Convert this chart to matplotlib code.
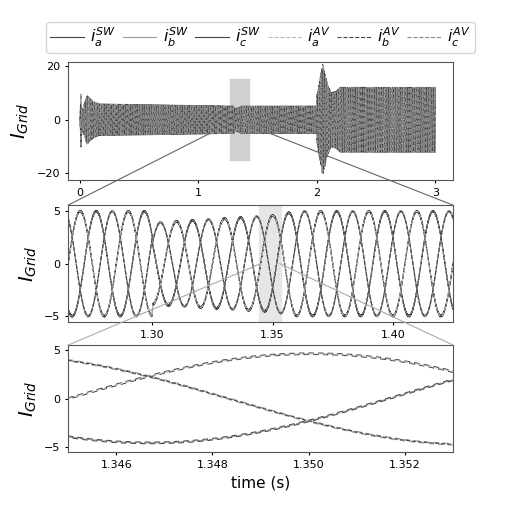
import matplotlib
matplotlib.use("Agg")
import matplotlib.pyplot as plt
import numpy as np
from matplotlib.patches import ConnectionPatch, Rectangle

# envelope of grid current amplitude (time s, amplitude A)
env_t = [0.0, 0.008, 0.015, 0.03, 0.06, 0.09, 0.12, 0.16, 1.2999, 1.3001, 1.35, 1.36,
         1.999, 2.001, 2.05, 2.09, 2.12, 2.16, 2.2, 2.23, 3.0]
env_a = [0.0, 11.0, 3.0, 5.0, 9.0, 7.5, 6.5, 5.8, 5.0, 3.9, 4.6, 5.0,
         5.0, 9.0, 20.5, 13.0, 10.0, 10.5, 12.0, 12.0, 12.0]
f_grid = 50.0
t_ref = 1.345
ripple = 0.08

labels = ["$i_a^{SW}$", "$i_b^{SW}$", "$i_c^{SW}$", "$i_a^{AV}$", "$i_b^{AV}$", "$i_c^{AV}$"]
colors = ["#444444", "#999999", "#444444", "#bbbbbb", "#444444", "#888888"]
styles = ["-", "-", "-", "--", "--", "--"]


def currents(t):
    amp = np.interp(t, env_t, env_a)
    th = 2 * np.pi * f_grid * (t - t_ref)
    av = [amp * np.sin(th + k * 2 * np.pi / 3) for k in (0, 1, -1)]
    sw = [c + ripple * np.sign(np.sin(2 * np.pi * 5000 * t)) for c in av]
    return sw + av


fig = plt.figure(figsize=(5.05, 5.3), dpi=100)
ax1 = fig.add_axes([0.135, 0.66, 0.762, 0.223])
ax2 = fig.add_axes([0.135, 0.392, 0.762, 0.221])
ax3 = fig.add_axes([0.135, 0.147, 0.762, 0.202])

spans = [(0.0, 3.0, 6000), (1.265, 1.425, 3000), (1.345, 1.353, 1500)]
for ax, (a, b, n) in zip([ax1, ax2, ax3], spans):
    t = np.linspace(a, b, n)
    for y, c, ls, lab in zip(currents(t), colors, styles, labels):
        ax.plot(t, y, color=c, ls=ls, lw=0.8, label=lab, zorder=2)
    ax.set_ylabel("$I_{Grid}$", fontsize=14)
    ax.tick_params(labelsize=8, length=2)
    for s in ax.spines.values():
        s.set_color("#555555")

ax1.set_xlim(-0.1, 3.15)
ax1.set_ylim(-22.5, 21.5)
ax1.set_xticks([0, 1, 2, 3])
ax1.set_yticks([-20, 0, 20])
ax2.set_xlim(1.265, 1.425)
ax2.set_ylim(-5.6, 5.6)
ax2.set_xticks([1.30, 1.35, 1.40])
ax2.set_yticks([-5, 0, 5])
ax3.set_xlim(1.345, 1.353)
ax3.set_ylim(-5.5, 5.5)
ax3.set_xticks([1.346, 1.348, 1.350, 1.352])
ax3.set_yticks([-5, 0, 5])
ax3.set_xlabel("time (s)", fontsize=11)

ax1.add_patch(Rectangle((1.27, -15), 0.16, 30, color="#d0d0d0", zorder=1))
ax2.add_patch(Rectangle((1.3445, -5.6), 0.0088, 11.2, color="#e6e6e6", zorder=1))

for (ax_a, x0, x1, y0, ax_b, col) in [(ax1, 1.1, 1.6, -5, ax2, "#666666"),
                                      (ax2, 1.345, 1.353, 0, ax3, "#aaaaaa")]:
    xl = ax_b.get_xlim()
    yt = ax_b.get_ylim()[1]
    for xa, xb in [(x0, xl[0]), (x1, xl[1])]:
        cp = ConnectionPatch((xa, y0), (xb, yt), "data", "data", axesA=ax_a, axesB=ax_b,
                             color=col, lw=0.8)
        fig.add_artist(cp)

fig.legend(*ax1.get_legend_handles_labels(), ncol=6, loc="lower center",
           bbox_to_anchor=(0.516, 0.885), fontsize=11.5, handlelength=2.1,
           columnspacing=0.4, handletextpad=0.4, borderpad=0.25)

fig.savefig("out.png", dpi=100)
